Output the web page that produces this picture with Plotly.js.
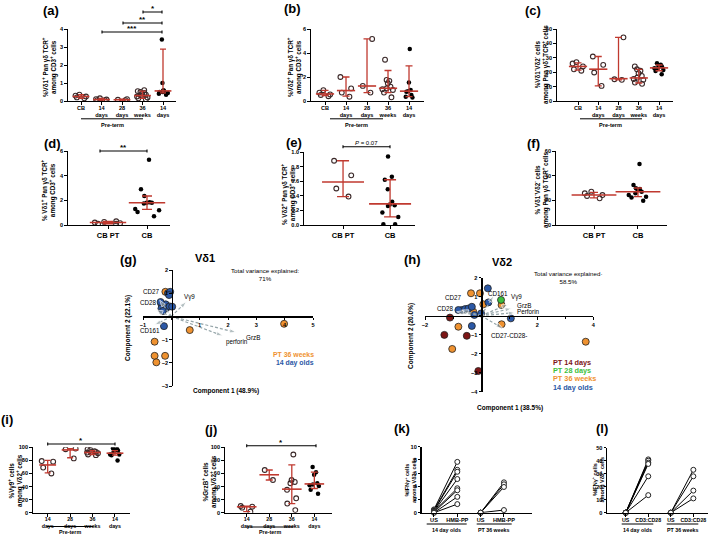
<!DOCTYPE html>
<html>
<head>
<meta charset="utf-8">
<script src="https://cdn.plot.ly/plotly-3.0.1.min.js"></script>
<style>
body { margin: 0; background: #fff; }
#chart { width: 709px; height: 535px; }
</style>
</head>
<body>
<div id="chart"></div>
<script>
// ---- data ----
var stageCats = ['CB', '14<br>days', '28<br>days', '36<br>weeks', '14<br>days'];
var cordCats = ['CB PT', 'CB'];
var lateCats = ['14<br>days', '28<br>days', '36<br>weeks', '14<br>days'];

// (a) %Vd1+ among CD3+
var aCB = [0.35, 0.3, 0.25, 0.2, 0.15];
var aPT14 = [0.15, 0.1, 0.08, 0.05, 0.05];
var aPT28 = [0.1, 0.07, 0.05];
var aPT36 = [0.6, 0.55, 0.5, 0.45, 0.4, 0.35, 0.3, 0.25, 0.2, 0.15, 0.1];
var aFT14 = [3.42, 1.0, 0.6, 0.55, 0.55, 0.5, 0.5, 0.45, 0.4, 0.35];
var aMed = [0.25, 0.08, 0.07, 0.3, 0.56];
var aLo = [0.15, 0.05, 0.05, 0.15, 0.45];
var aHi = [0.35, 0.15, 0.1, 0.55, 2.88];

// (b) %Vd2+ among CD3+
var bCB = [0.9, 0.7, 0.55, 0.5, 0.4];
var bPT14 = [2.0, 1.05, 0.7, 0.36];
var bPT28 = [5.17, 1.26, 0.7];
var bPT36 = [3.44, 1.76, 1.68, 1.48, 1.2, 1.06, 0.98, 0.92, 0.7, 0.31];
var bFT14 = [4.33, 1.54, 0.92, 0.82, 0.78, 0.5, 0.36, 0.3];
var bMed = [0.59, 0.87, 1.25, 1.06, 0.82];
var bLo = [0.45, 0.4, 0.7, 0.7, 0.36];
var bHi = [0.88, 2.0, 5.17, 2.54, 2.93];

// (c) %Vd1-Vd2- among pan gd
var cCB = [27, 26, 24, 22, 21];
var cPT14 = [30.9, 25.1, 19.8, 10.5];
var cPT28 = [44.2, 15.1, 14.7];
var cPT36 = [24, 22, 21, 19.3, 17.4, 16.3, 15.3, 14.7, 12.8, 11.9];
var cFT14 = [26.3, 25.1, 24.4, 24, 22.8, 22.8, 21.6, 20.9, 18.6];
var cMed = [24, 22.1, 15.5, 16, 23];
var cLo = [21.5, 10.5, 14.7, 12.5, 21];
var cHi = [26.5, 30.9, 44.2, 22, 25];

// (d)-(f) cord blood preterm vs term
var dCBPT = [0.3, 0.25, 0.2, 0.15, 0.1, 0.1];
var dCB = [5.3, 2.9, 2.35, 1.85, 1.8, 1.8, 1.75, 1.3, 1.2, 1.05, 0.7];
var dMed = [0.2, 1.8], dLo = [0.1, 1.27], dHi = [0.3, 2.35];
var eCBPT = [0.88, 0.68, 0.5, 0.39];
var eCB = [0.94, 0.66, 0.62, 0.49, 0.32, 0.28, 0.27, 0.26, 0.17, 0.11, 0.01, 0.01];
var eMed = [0.59, 0.29], eLo = [0.39, 0.11], eHi = [0.88, 0.62];
var fCBPT = [27, 25.7, 24.3, 23.5, 21.6];
var fCB = [49.5, 32.4, 29.7, 29.2, 28.4, 27, 25.7, 24.3, 23, 22.2, 19.7];
var fMed = [24.3, 27], fLo = [22, 23], fHi = [26.5, 30];

// (g) PCA Vd1
var gPT36x = [-0.21, -0.59, -0.59, -0.22, -0.53, 0.65, 3.98];
var gPT36y = [1.06, -1.09, -1.70, -1.70, -1.98, -0.59, -0.32];
var g14x = [-0.12, -0.04, -0.08, -0.35, -0.2, -0.35, -0.18, -0.06, 0.03, -0.3, -0.38, -0.26];
var g14y = [1.0, 1.06, 0.92, 0.52, 0.52, 0.34, 0.37, 0.43, 0.42, 0.23, 0.62, -0.42];
var gLoadNames = ['CD27', 'CD28', 'Vγ9', 'CD161', 'GrzB', 'perforin'];
var gLoadX = [-0.41, -0.53, 0.53, -0.59, 2.29, 1.82];
var gLoadY = [0.70, 0.27, 0.63, -0.37, -0.69, -0.84];

// (h) PCA Vd2
var hPT14x = [-1.11, -1.31, -0.51, -0.1];
var hPT14y = [-0.1, -1.01, -1.06, -2.91];
var hPT28x = [0.71];
var hPT28y = [0.83];
var hPT36x = [-0.36, -0.04, 0.08, -0.28, 0.73, -0.81, -1.03, 0.73, 3.73];
var hPT36y = [1.18, 1.18, 0.6, 0.21, 0.56, -0.58, -1.75, -0.45, -1.37];
var h14x = [0.24, -0.69, -0.57, -0.45, -0.33, -0.24, 0.0, 0.26, 1.06, -0.33, -0.81];
var h14y = [1.44, 0.3, 0.35, 0.38, 0.47, 0.04, 0.12, 0.7, -0.14, -0.54, 0.3];
var hLoadNames = ['CD27', 'CD28', 'CD161', 'Vγ9', 'GrzB', 'Perforin', 'CD27-CD28-'];
var hLoadX = [-0.69, -0.87, 0.45, 0.97, 1.09, 1.21, 0.77];
var hLoadY = [0.30, 0.21, 1.05, 0.6, 0.39, 0.16, -0.66];

// (i) %Vg9+ among Vd2+, (j) %GrzB+ among Vd2+
var iPT14 = [79, 78, 69, 60];
var iPT28 = [98, 97, 83];
var iPT36 = [97, 96, 94, 93, 93, 92.5, 92, 91, 89, 88];
var iFT14 = [98.5, 97.4, 95, 95, 93, 89, 89, 88, 80];
var iMed = [73, 96, 92, 91], iLo = [61, 84, 89, 88], iHi = [80, 98, 95, 95];
var jPT14 = [10.2, 9.2, 7.7, 1.5];
var jPT28 = [65.3, 50];
var jPT36 = [89, 50, 47, 45, 35, 22, 14, 4];
var jFT14 = [70, 62, 58, 45, 43, 42, 41, 35, 29];
var jMed = [9, 58, 36, 44], jLo = [1.5, 50, 14, 37], jHi = [10.2, 65.3, 73, 62];

// (k) IFNg after HMB-PP, (l) after CD3:CD28
var kUS14 = [0.5, 0.4, 0.3, 0.2, 0.2, 0.1, 0, 0];
var kHMB14 = [7.7, 6.5, 6.2, 5.1, 3.7, 3.4, 2.4, 1.3];
var kUSPT = [0, 0, 0, 0];
var kHMBPT = [4.6, 4.3, 3.9, 0.4];
var kCats = ['US', 'HMB-PP', 'US', 'HMB-PP'];
var lUS14 = [0, 0, 0, 0, 0, 0];
var lCD14 = [41, 40, 38.5, 37.5, 28, 13.5];
var lUSPT = [0, 0, 0, 0];
var lCDPT = [33, 28, 17, 11];
var lCats = ['US', 'CD3:CD28', 'US', 'CD3:CD28'];

// ---- helpers ----
var W = 709, H = 535;
var FONT = 'Liberation Sans, Arial, sans-serif';
var RED = '#c0392f';
var DOT = '#3a2828';
var GREY = '#94a4a8';
var ORANGE = '#ef9230', BLUE = '#2b58a6', DKRED = '#7d1616', GREEN = '#3cbf3c';
var TICK = 5.6;

function px(v) { return v / W; }
function py(v) { return 1 - v / H; }

var data = [];
var layout = {
    width: W, height: H, autosize: false,
    margin: {l: 0, r: 0, t: 0, b: 0},
    showlegend: false, hovermode: false, boxmode: 'overlay',
    paper_bgcolor: '#fff', plot_bgcolor: 'rgba(0,0,0,0)',
    font: {family: FONT, color: '#000'},
    annotations: [], shapes: []
};

function sfx(n) { return n === 1 ? '' : String(n); }

function baseAxis(extra) {
    var a = {
        showgrid: false, zeroline: false, showline: true, linecolor: '#000', linewidth: 1.3,
        ticks: 'outside', ticklen: 2.5, tickwidth: 1, tickcolor: '#000', fixedrange: true,
        tickfont: {family: FONT, size: TICK, weight: 'bold', color: '#000'}
    };
    for (var k in extra) a[k] = extra[k];
    return a;
}

// pixel box: left/right of x axis line, top (max tick) / bottom (zero) of y axis line
function setAxes(n, o) {
    var s = sfx(n);
    layout['xaxis' + s] = baseAxis({
        domain: [px(o.l), px(o.r)], range: o.xr, anchor: 'y' + s, type: 'linear',
        tickvals: o.xt.map(function (t, i) { return i; }), ticktext: o.xt,
        ticklabelstandoff: o.so || 0,
        tickfont: {family: FONT, size: o.xfs || TICK, weight: 'bold', color: '#000'}
    });
    layout['yaxis' + s] = baseAxis({
        domain: [py(o.b), py(o.t)], range: o.yr, anchor: 'x' + s,
        tickvals: o.yt, tickformat: o.yf || ''
    });
}

function note(text, x, y, size, bold, extra) {
    var a = {
        xref: 'paper', yref: 'paper', x: px(x), y: py(y), text: text, showarrow: false,
        xanchor: 'center', yanchor: 'middle', borderpad: 0,
        font: {family: FONT, size: size, weight: bold ? 'bold' : 'normal', color: '#000'}
    };
    for (var k in extra) a[k] = extra[k];
    layout.annotations.push(a);
}

function ytitle(text, x, y, size) {
    note(text, x, y, size || 6.3, true, {textangle: -90});
}

function hline(x1, x2, y) {
    layout.shapes.push({type: 'line', xref: 'paper', yref: 'paper',
        x0: px(x1), x1: px(x2), y0: py(y), y1: py(y), line: {color: '#000', width: 1}});
}

function sigBar(x1, x2, y, label, size, bold) {
    var p = 'M' + px(x1) + ',' + py(y - 1.5) + 'L' + px(x1) + ',' + py(y + 1.5) +
        'M' + px(x1) + ',' + py(y) + 'L' + px(x2) + ',' + py(y) +
        'M' + px(x2) + ',' + py(y - 1.5) + 'L' + px(x2) + ',' + py(y + 1.5);
    layout.shapes.push({type: 'path', xref: 'paper', yref: 'paper', path: p,
        line: {color: '#000', width: 1.1}});
    note(label, (x1 + x2) / 2, y - 3.5, size || 8, bold !== false);
}

function dotPanel(n, groups, filled, med, lo, hi, bw, jit, mw, cap) {
    var xa = 'x' + sfx(n), ya = 'y' + sfx(n);
    groups.forEach(function (vals, i) {
        data.push({
            type: 'box', xaxis: xa, yaxis: ya,
            x: vals.map(function () { return i; }), y: vals,
            width: bw, boxpoints: 'all', jitter: jit, pointpos: 0,
            fillcolor: 'rgba(0,0,0,0)', line: {width: 0, color: 'rgba(0,0,0,0)'},
            marker: filled[i]
                ? {symbol: 'circle', color: '#000', size: 4.5}
                : {symbol: 'circle-open', color: DOT, size: 4.8, line: {width: 1.1}}
        });
    });
    data.push({
        type: 'scatter', mode: 'markers', xaxis: xa, yaxis: ya, cliponaxis: false,
        x: med.map(function (m, i) { return i; }), y: med,
        marker: {symbol: 'line-ew', size: mw, color: RED, line: {color: RED, width: 1.6}},
        error_y: {
            type: 'data', symmetric: false,
            array: hi.map(function (h, i) { return h - med[i]; }),
            arrayminus: lo.map(function (l, i) { return med[i] - l; }),
            color: RED, thickness: 1.3, width: cap
        }
    });
}

function pcaPoints(n, xs, ys, color) {
    data.push({
        type: 'scatter', mode: 'markers', xaxis: 'x' + n, yaxis: 'y' + n, cliponaxis: false,
        x: xs, y: ys, marker: {color: color, size: 7, line: {color: '#222', width: 0.8}}
    });
}

function loadings(n, names, lx, ly) {
    names.forEach(function (nm, i) {
        data.push({
            type: 'scatter', mode: 'lines+markers', xaxis: 'x' + n, yaxis: 'y' + n, cliponaxis: false,
            x: [0, lx[i]], y: [0, ly[i]],
            line: {color: GREY, width: 1.2, dash: '3px,2px'},
            marker: {symbol: 'arrow', size: [0, 7], angleref: 'previous', color: GREY}
        });
    });
}

function pairs(n, x0, us, st) {
    var xs = [], ys = [];
    us.forEach(function (u, i) {
        xs.push(x0, x0 + 1, null);
        ys.push(u, st[i], null);
    });
    data.push({
        type: 'scatter', mode: 'lines+markers', xaxis: 'x' + n, yaxis: 'y' + n, cliponaxis: false,
        x: xs, y: ys, line: {color: '#000', width: 1},
        marker: {symbol: 'circle', size: 5, color: '#fff', line: {color: '#222', width: 1}}
    });
}

// ---- (a) ----
setAxes(1, {l: 68, r: 176, xr: [-0.634, 4.634], t: 29, b: 101, yr: [0, 4], yt: [0, 1, 2, 3, 4], xt: stageCats, so: -2});
dotPanel(1, [aCB, aPT14, aPT28, aPT36, aFT14], [0, 0, 0, 0, 1], aMed, aLo, aHi, 0.7, 0.9, 12, 3);
note('(a)', 51, 10, 13, true);
ytitle('%Vδ1<sup>+</sup> Pan γδ TCR<sup>+</sup><br>among CD3<sup>+</sup> cells', 50, 67);
sigBar(143, 162, 12, '*');
sigBar(123, 162, 23, '**');
sigBar(102, 162, 32, '***');
hline(81, 143, 118.8);
note('Pre-term', 112, 125, 5.6, true);

// ---- (b) ----
setAxes(2, {l: 311, r: 424, xr: [-0.667, 4.714], t: 29, b: 101, yr: [0, 6], yt: [0, 2, 4, 6], xt: stageCats, so: -2});
dotPanel(2, [bCB, bPT14, bPT28, bPT36, bFT14], [0, 0, 0, 0, 1], bMed, bLo, bHi, 0.7, 0.9, 13, 3.5);
note('(b)', 292, 9, 13, true);
ytitle('%Vδ2<sup>+</sup> Pan γδ TCR<sup>+</sup><br>among CD3<sup>+</sup> cells', 295, 67);
hline(330, 383, 118.8);
note('Pre-term', 356, 125, 5.6, true);

// ---- (c) ----
setAxes(3, {l: 557, r: 673, xr: [-1.037, 4.69], t: 29, b: 101, yr: [0, 50], yt: [0, 10, 20, 30, 40, 50], xt: stageCats, so: -2});
dotPanel(3, [cCB, cPT14, cPT28, cPT36, cFT14], [0, 0, 0, 0, 1], cMed, cLo, cHi, 0.7, 0.9, 13, 3.5);
note('(c)', 533, 10, 13, true);
ytitle('%Vδ1<sup>-</sup>Vδ2<sup>-</sup> cells<br>among Pan γδ<sup>+</sup> TCR<sup>+</sup> cells', 541, 65);
hline(580, 642, 118.8);
note('Pre-term', 610, 125, 5.6, true);

// ---- (d) ----
setAxes(4, {l: 68, r: 170, xr: [-1.026, 1.59], t: 151, b: 225, yr: [0, 6], yt: [0, 2, 4, 6], xt: cordCats, xfs: 7.5});
dotPanel(4, [dCBPT, dCB], [0, 1], dMed, dLo, dHi, 0.8, 1, 26, 5);
note('(d)', 52, 143, 13, true);
ytitle('% Vδ1<sup>+</sup> Pan γδ TCR<sup>+</sup><br>among CD3<sup>+</sup> cells', 48, 190);
sigBar(100, 147, 151, '**');

// ---- (e) ----
setAxes(5, {l: 304, r: 415, xr: [-0.83, 1.53], t: 152, b: 225, yr: [0, 1], yt: [0, 0.2, 0.4, 0.6, 0.8, 1.0], yf: '.1f', xt: cordCats, xfs: 7.5});
dotPanel(5, [eCBPT, eCB], [0, 1], eMed, eLo, eHi, 0.5, 0.9, 30, 6);
note('(e)', 294, 142, 13, true);
ytitle('% Vδ2<sup>+</sup> Pan γδ TCR<sup>+</sup><br>among CD3<sup>+</sup> cells', 288, 194);
sigBar(343, 390, 146.7, '<i>P</i> = 0.07', 6, false);

// ---- (f) ----
setAxes(6, {l: 556, r: 667, xr: [-0.864, 1.66], t: 151, b: 225, yr: [0, 60], yt: [0, 20, 40, 60], xt: cordCats, xfs: 7.5});
dotPanel(6, [fCBPT, fCB], [0, 1], fMed, fLo, fHi, 0.55, 0.9, 32, 4);
note('(f)', 533, 143, 13, true);
ytitle('% Vδ1<sup>-</sup>Vδ2<sup>-</sup> cells<br>among Pan γδ TCR<sup>+</sup> cells', 541, 190);

// ---- (g) PCA Vd1 ----
layout.xaxis7 = baseAxis({domain: [px(143), px(313)], range: [-1, 5], anchor: 'free', position: py(316.3),
    tickvals: [-1, 0, 1, 2, 3, 4, 5], ticktext: ['−1', '', '1', '2', '3', '4', '5'], linewidth: 1.6});
layout.yaxis7 = baseAxis({domain: [py(386), py(270)], range: [-3, 2], anchor: 'free', position: px(171.7),
    tickvals: [-3, -2, -1, 0, 1, 2], ticktext: ['−3', '−2', '−1', '', '1', '2'], linewidth: 1.6});
pcaPoints(7, gPT36x, gPT36y, ORANGE);
pcaPoints(7, g14x, g14y, BLUE);
loadings(7, gLoadNames, gLoadX, gLoadY);
[[151.7, 291], [148.3, 302.3], [189.7, 297.3], [149.7, 330], [252.5, 337], [237.5, 342.3]].forEach(function (p, i) {
    note(gLoadNames[i], p[0], p[1], 6.3, false);
});
note('(g)', 128, 259, 13, true);
note('Vδ1', 205, 257.5, 11, true);
note('Total variance explained:<br>71%', 265, 274, 6.2, false);
ytitle('Component 2 (22.1%)', 128, 328, 6.5);
note('Component 1 (48.9%)', 226, 390.7, 6.5, true);
note('PT 36 weeks', 315, 354.8, 6.9, true, {xanchor: 'right', font: {family: FONT, size: 6.9, weight: 'bold', color: ORANGE}});
note('14 day olds', 315, 362.8, 6.9, true, {xanchor: 'right', font: {family: FONT, size: 6.9, weight: 'bold', color: BLUE}});

// ---- (h) PCA Vd2 ----
layout.xaxis8 = baseAxis({domain: [px(425), px(593.3)], range: [-2, 4], anchor: 'free', position: py(315.7),
    tickvals: [-2, 0, 2, 4], ticktext: ['−2', '', '2', '4'], linewidth: 1.6,
    minor: {dtick: 1, ticks: 'outside', ticklen: 2, tickcolor: '#000'}});
layout.yaxis8 = baseAxis({domain: [py(391.7), py(277.7)], range: [-4, 2], anchor: 'free', position: px(481.1),
    tickvals: [-4, -3, -2, -1, 0, 1, 2], ticktext: ['−4', '−3', '−2', '−1', '', '1', '2'], linewidth: 1.6});
pcaPoints(8, hPT14x, hPT14y, DKRED);
pcaPoints(8, hPT36x, hPT36y, ORANGE);
pcaPoints(8, h14x, h14y, BLUE);
pcaPoints(8, hPT28x, hPT28y, GREEN);
loadings(8, hLoadNames, hLoadX, hLoadY);
[[453, 297.7], [445, 308.3], [498, 293.3], [516, 296.7], [524, 305], [528, 311.7], [509, 335.7]].forEach(function (p, i) {
    note(hLoadNames[i], p[0], p[1], 6.3, false);
});
note('(h)', 412, 259, 13, true);
note('Vδ2', 501.7, 261.7, 11, true);
note('Total variance explained·<br>58.5%', 568.3, 277.8, 6.2, false);
ytitle('Component 2 (20.0%)', 411, 336, 6.5);
note('Component 1 (38.5%)', 510, 408.3, 6.5, true);
[['PT 14 days', DKRED, 362.3], ['PT 28 days', GREEN, 370.7], ['PT 36 weeks', ORANGE, 379], ['14 day olds', BLUE, 387.3]].forEach(function (g) {
    note(g[0], 551.7, g[2], 7.3, true, {xanchor: 'left', font: {family: FONT, size: 7.3, weight: 'bold', color: g[1]}});
});

// ---- (i) ----
setAxes(9, {l: 33, r: 130, xr: [-0.655, 3.67], t: 447.3, b: 512.7, yr: [0, 100], yt: [0, 20, 40, 60, 80, 100], xt: lateCats, so: -2, xfs: 5.3});
dotPanel(9, [iPT14, iPT28, iPT36, iFT14], [0, 0, 0, 1], iMed, iLo, iHi, 0.7, 0.9, 12, 3);
note('(i)', 7, 419, 13, true);
ytitle('%Vγ9<sup>+</sup> cells<br>among Vδ2<sup>+</sup> cells', 15, 480);
sigBar(47.7, 115, 444, '*');
hline(46.7, 93.3, 526.5);
note('Pre-term', 70, 531.8, 5.4, true);

// ---- (j) ----
setAxes(10, {l: 225, r: 331.7, xr: [-0.963, 3.77], t: 447.3, b: 512.7, yr: [0, 100], yt: [0, 20, 40, 60, 80, 100], xt: lateCats, so: -2, xfs: 5.3});
dotPanel(10, [jPT14, jPT28, jPT36, jFT14], [0, 0, 0, 1], jMed, jLo, jHi, 0.7, 0.9, 14, 3.5);
note('(j)', 211, 429, 13, true);
ytitle('%GrzB<sup>+</sup> cells<br>among Vδ2<sup>+</sup> cells', 209, 482);
sigBar(246.7, 316, 445.7, '*');
hline(246.7, 293.3, 527);
note('Pre-term', 270, 532, 5.4, true);

// ---- (k) ----
setAxes(11, {l: 421.7, r: 531.7, xr: [-0.527, 4.19], t: 446.7, b: 512.7, yr: [0, 10], yt: [0, 2, 4, 6, 8, 10], xt: kCats, xfs: 5.6, so: -1});
pairs(11, 0, kUS14, kHMB14);
pairs(11, 2, kUSPT, kHMBPT);
note('(k)', 402, 428, 13, true);
ytitle('%IFNγ<sup>+</sup> cells<br>among Vδ2<sup>+</sup> cells', 410, 480, 5.5);
hline(426.7, 466.7, 524);
note('14 day olds', 446.7, 529.5, 5.3, true);
hline(476.7, 511.7, 524);
note('PT 36 weeks', 494.2, 529.5, 5.3, true);

// ---- (l) ----
setAxes(12, {l: 607.3, r: 708, xr: [-0.817, 3.65], t: 447.7, b: 512.7, yr: [0, 50], yt: [0, 10, 20, 30, 40, 50], xt: lCats, xfs: 5.3, so: -1});
pairs(12, 0, lUS14, lCD14);
pairs(12, 2, lUSPT, lCDPT);
note('(l)', 602, 428, 13, true);
ytitle('%IFNγ<sup>+</sup> cells<br>among Vδ2<sup>+</sup> cells', 597.5, 480, 5.5);
hline(621.7, 653.3, 524);
note('14 day olds', 637.5, 529.5, 5.3, true);
hline(666.7, 698.3, 524);
note('PT 36 weeks', 682.5, 529.5, 5.3, true);

Plotly.newPlot('chart', data, layout, {staticPlot: true, displayModeBar: false});
</script>
</body>
</html>
